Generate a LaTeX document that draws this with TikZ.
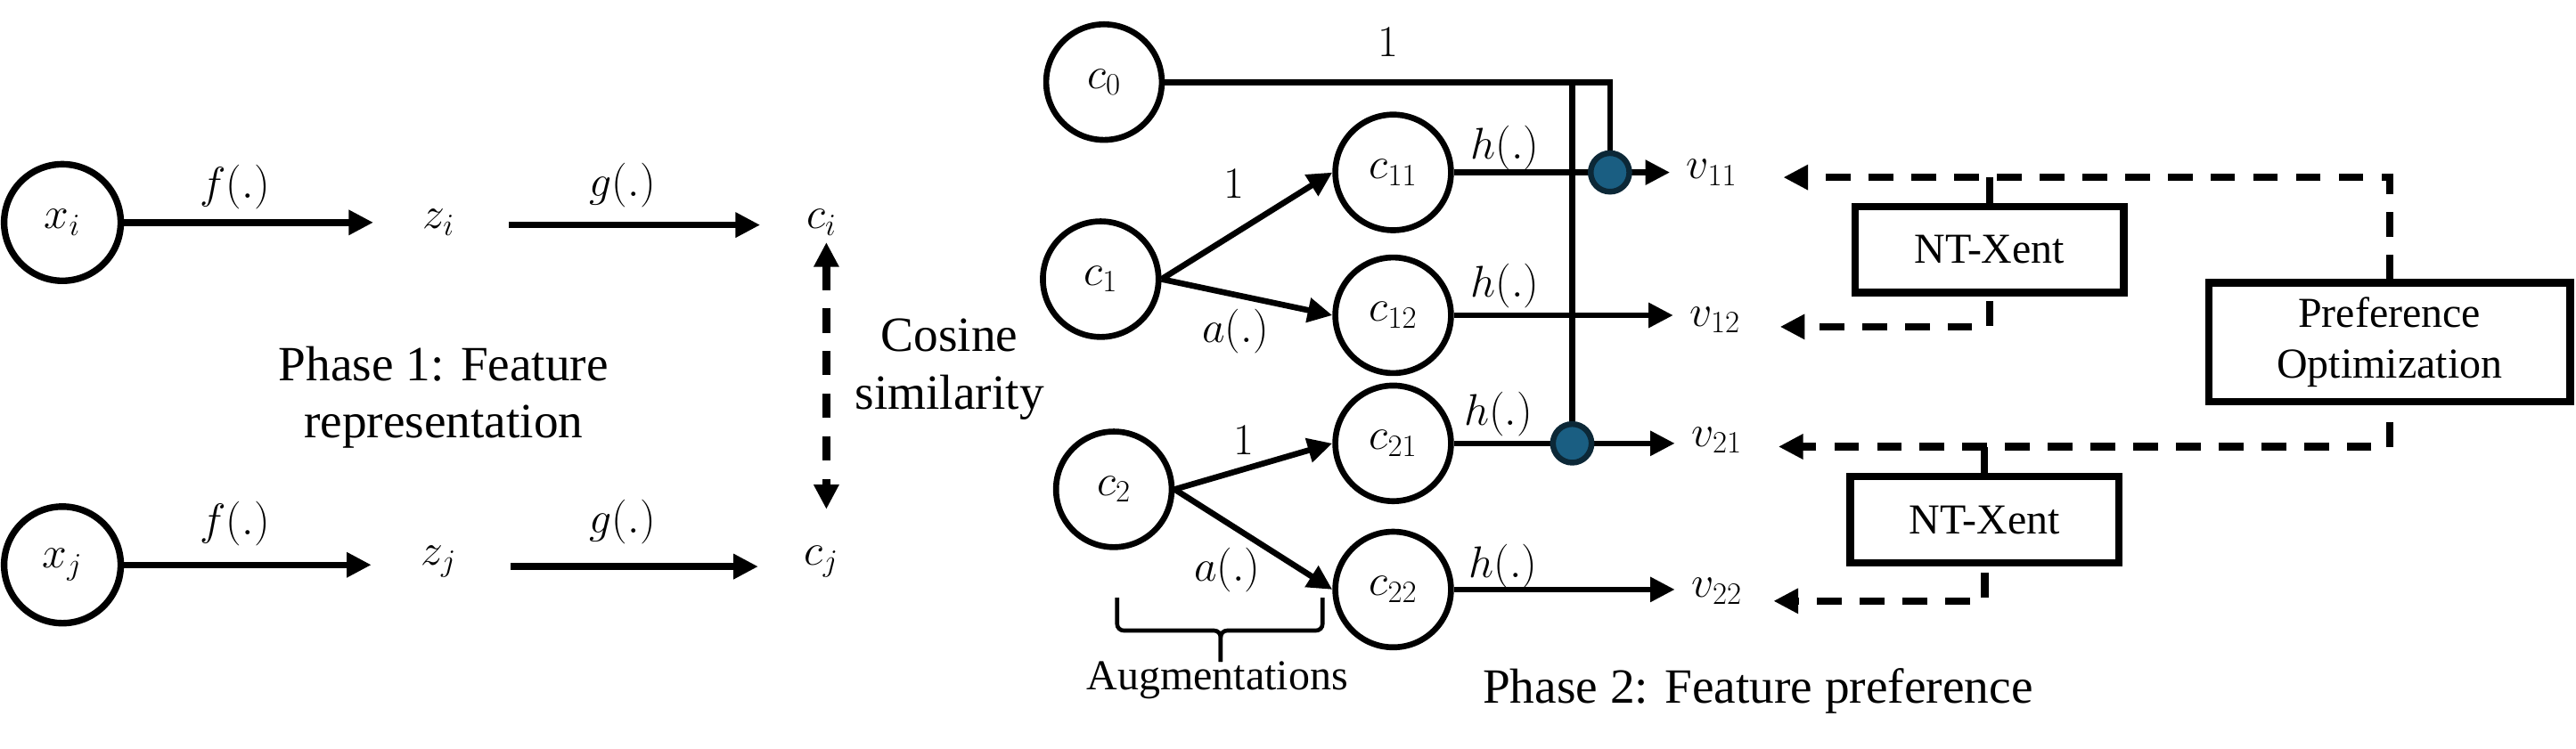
\RequirePackage{fix-cm}
\documentclass[tikz,border=0pt]{standalone}
\usepackage{fontspec}
\setmainfont{Liberation Serif}
\usetikzlibrary{arrows.meta,calc}
\pgfdeclarelayer{bg}
\pgfsetlayers{bg,main}
\definecolor{dotfill}{HTML}{1A5E82}
\definecolor{dotedge}{HTML}{0C2837}
\begin{document}
\begin{tikzpicture}[x=1pt,y=-1pt,
  >={Triangle[length=15pt,width=14.5pt]},
  every node/.style={inner sep=0pt, font=\fontsize{27}{32}\selectfont},
  ln/.style={line width=3.6pt},
  arr/.style={line width=3.6pt,->},
  arrb/.style={line width=4pt,->},
  darr/.style={line width=4.6pt,dash pattern=on 15pt off 11pt,->},
  circ/.style={circle,draw,line width=3.6pt,minimum size=70.4pt},
  circb/.style={circle,draw,line width=4pt,minimum size=71pt},
  box/.style={rectangle,draw,line width=4.6pt,align=center},
  dotn/.style={circle,draw=dotedge,fill=dotfill,line width=3.5pt,minimum size=23.5pt},
  big/.style={font=\fontsize{30}{35}\selectfont,align=center},
  mid/.style={font=\fontsize{26}{31}\selectfont,align=center},
  brace/.style={line width=2.5pt,rounded corners=4pt}]
\useasboundingbox (0,0) rectangle (1568,456);

% ---------- Phase 1 ----------
\node[circb] (xi) at (38,135.5) {$x_i$};
\node (zi) at (267,135.5) {$z_i$};
\node (ci) at (500,135.5) {$c_i$};
\node[circb] (xj) at (38,344) {$x_j$};
\node (zj) at (267,342) {$z_j$};
\node (cj) at (500,342) {$c_j$};
\node (fi) at (143,114) {$f(.)$};
\node (gi) at (379,113) {$g(.)$};
\node (fj) at (143,319) {$f(.)$};
\node (gj) at (379,318) {$g(.)$};
\node[big] (ph1) at (270,242) {Phase 1: Feature\\representation};
\node[big] (cos) at (578,225) {Cosine\\similarity};

\draw[arrb] (xi) -- ($(zi.west)+(-30,0)$);
\draw[arrb] ($(zi.east)+(33,1.5)$) -- ($(ci.west)+(-28,1.5)$);
\draw[arrb] (xj) -- ($(zj.west)+(-30,2)$);
\draw[arrb] ($(zj.east)+(33,3)$) -- ($(cj.west)+(-28,3)$);
\draw[darr,<->] ($(ci.south)+(3,4)$) -- ($(cj.north)+(3,-22)$);

% ---------- Phase 2 ----------
\node[circ] (c0) at (672,50) {$c_0$};
\node[circ] (c1) at (670,170) {$c_1$};
\node[circ] (c2) at (678,298) {$c_2$};
\node[circ] (c11) at (848,105) {$c_{11}$};
\node[circ] (c12) at (848,192) {$c_{12}$};
\node[circ] (c21) at (848,270) {$c_{21}$};
\node[circ] (c22) at (848,359) {$c_{22}$};
\node (v11) at (1042,105) {$v_{11}$};
\node (v12) at (1044,195) {$v_{12}$};
\node (v21) at (1045,268) {$v_{21}$};
\node (v22) at (1045,360) {$v_{22}$};
\node[dotn] (d11) at (980,105) {};
\node[dotn] (d21) at (957,270) {};

\node (one0) at (845,26) {$1$};
\node (one1) at (751,112) {$1$};
\node (one2) at (757,268) {$1$};
\node (a1) at (752,202) {$a(.)$};
\node (a2) at (747,347) {$a(.)$};
\node (h11) at (916,90) {$h(.)$};
\node (h12) at (916,174) {$h(.)$};
\node (h21) at (912,252) {$h(.)$};
\node (h22) at (915,345) {$h(.)$};

\node[box,mid,minimum width=163.4pt,minimum height=52.4pt] (nt1) at (1211,152) {NT-Xent};
\node[box,mid,minimum width=163.4pt,minimum height=52.4pt] (nt2) at (1208,316.5) {NT-Xent};
\node[box,mid,minimum width=220pt,minimum height=72.4pt] (po) at (1454.5,208.5) {Preference\\Optimization};

\node[mid] (aug) at (741,414) {Augmentations};
\node[big] (ph2) at (1070,421) {Phase 2: Feature preference};

\coordinate (t11) at ($(v11.east)+(28,3)$);
\coordinate (t12) at ($(v12.east)+(24,4)$);
\coordinate (t21) at ($(v21.east)+(22,4)$);
\coordinate (t22) at ($(v22.east)+(19,6)$);

\begin{pgfonlayer}{bg}
\draw[ln] (c0.east) -- (c0.east -| d11) -- (d11.north);
\draw[ln] (c0.east -| d21) -- (d21.north);
\draw[arr] (c1.east) -- (c11.west);
\draw[arr] (c1.east) -- (c12.west);
\draw[arr] (c2.east) -- (c21.west);
\draw[arr] (c2.east) -- (c22.west);
\draw[arr] (c11.east) -- ($(v11.west)+(-10,0)$);
\draw[arr] (c12.east) -- ($(v12.west)+(-10,-3)$);
\draw[arr] (c21.east) -- ($(v21.west)+(-10,2)$);
\draw[arr] (c22.east) -- ($(v22.west)+(-10,-1)$);

\draw[darr] (po.north) |- (t11);
\draw[ln,line width=4.4pt] (nt1.north) -- (nt1.north |- t11);
\draw[darr,shorten <=3pt] (nt1.south) |- (t12);
\draw[darr,shorten <=10pt] (po.south) |- (t21);
\draw[ln,line width=4.4pt] (nt2.north) -- (nt2.north |- t21);
\draw[darr,shorten <=4pt] (nt2.south) |- (t22);
\end{pgfonlayer}

\draw[brace] (680,364) -- (680,384) -- (743,384) -- (743,403);
\draw[brace] (743,403) -- (743,384) -- (805,384) -- (805,364);
\end{tikzpicture}
\end{document}
